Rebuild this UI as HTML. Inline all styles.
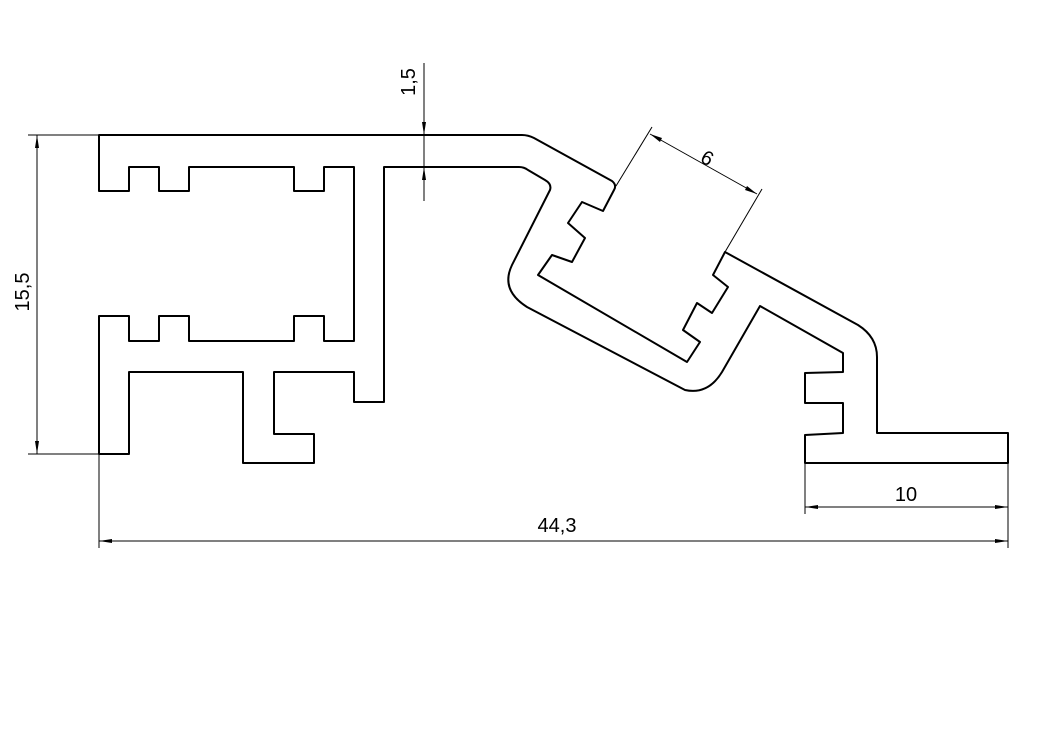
<!DOCTYPE html>
<html><head><meta charset="utf-8"><style>
html,body{margin:0;padding:0;background:#fff;}
svg{display:block}
text{font-family:"Liberation Sans",sans-serif;font-size:20px;fill:#000}
</style></head><body>
<svg width="1055" height="729" viewBox="0 0 1055 729" xmlns="http://www.w3.org/2000/svg">
<path d="M 99,135 L 522,135 Q 528,135 534,138 L 612,181 Q 617,185 614,190 L 603,211 L 582,202 L 568,223 L 585,238 L 572,262 L 552,255 L 538,275 L 687,362 L 700,342 L 683,330 L 697,303 L 712,313 L 728,287 L 713,275 L 725,252 L 858,325 Q 877,337 877,357 L 877,433 L 1008,433 L 1008,463 L 805,463 L 805,435 L 843,433 L 843,403 L 805,403 L 805,373 L 843,372 L 843,353 L 760,306 L 722,372 Q 708,395 685,390 L 527,307 Q 500,290 512,265 L 550,190 Q 552,184 545,180 L 528,170 Q 524,167 519,167 L 384,167 L 384,402 L 354,402 L 354,372 L 274,372 L 274,434 L 314,434 L 314,463 L 243,463 L 243,372 L 129,372 L 129,454 L 99,454 L 99,316 L 129,316 L 129,341 L 159,341 L 159,316 L 189,316 L 189,341 L 294,341 L 294,316 L 324,316 L 324,341 L 354,341 L 354,167 L 324,167 L 324,191 L 294,191 L 294,167 L 189,167 L 189,191 L 159,191 L 159,167 L 129,167 L 129,191 L 99,191 Z" fill="none" stroke="#000" stroke-width="2" stroke-linejoin="round"/>
<g stroke="#000" stroke-width="1" fill="none">
<line x1="28" y1="135" x2="99" y2="135"/>
<line x1="28" y1="454" x2="99" y2="454"/>
<line x1="37" y1="135" x2="37" y2="454"/>
<line x1="424" y1="63" x2="424" y2="201"/>
<line x1="384" y1="135" x2="430" y2="135"/>
<line x1="99" y1="454" x2="99" y2="548"/>
<line x1="1008" y1="463" x2="1008" y2="548"/>
<line x1="99" y1="541" x2="1008" y2="541"/>
<line x1="805" y1="463" x2="805" y2="514"/>
<line x1="805" y1="507" x2="1008" y2="507"/>
<line x1="616" y1="186" x2="652" y2="127"/>
<line x1="725" y1="252" x2="762" y2="189"/>
<line x1="650" y1="134" x2="757" y2="194"/>
</g>
<g fill="#000">
<polygon points="37,135 35,148 39,148"/>
<polygon points="37,454 35,441 39,441"/>
<polygon points="424,135 422,122 426,122"/>
<polygon points="424,167 422,180 426,180"/>
<polygon points="99,541 112,539 112,543"/>
<polygon points="1008,541 995,539 995,543"/>
<polygon points="805,507 818,505 818,509"/>
<polygon points="1008,507 995,505 995,509"/>
<polygon points="650,134 660,142 662,138"/>
<polygon points="757,194 745,190 747,186"/>
</g>
<text x="0" y="0" text-anchor="middle" transform="translate(29,292) rotate(-90)">15,5</text>
<text x="0" y="0" text-anchor="middle" transform="translate(415,82) rotate(-90)">1,5</text>
<text x="557" y="532" text-anchor="middle">44,3</text>
<text x="906" y="501" text-anchor="middle">10</text>
<text x="0" y="0" text-anchor="middle" transform="translate(704,164) rotate(29)">6</text>
</svg>
</body></html>
